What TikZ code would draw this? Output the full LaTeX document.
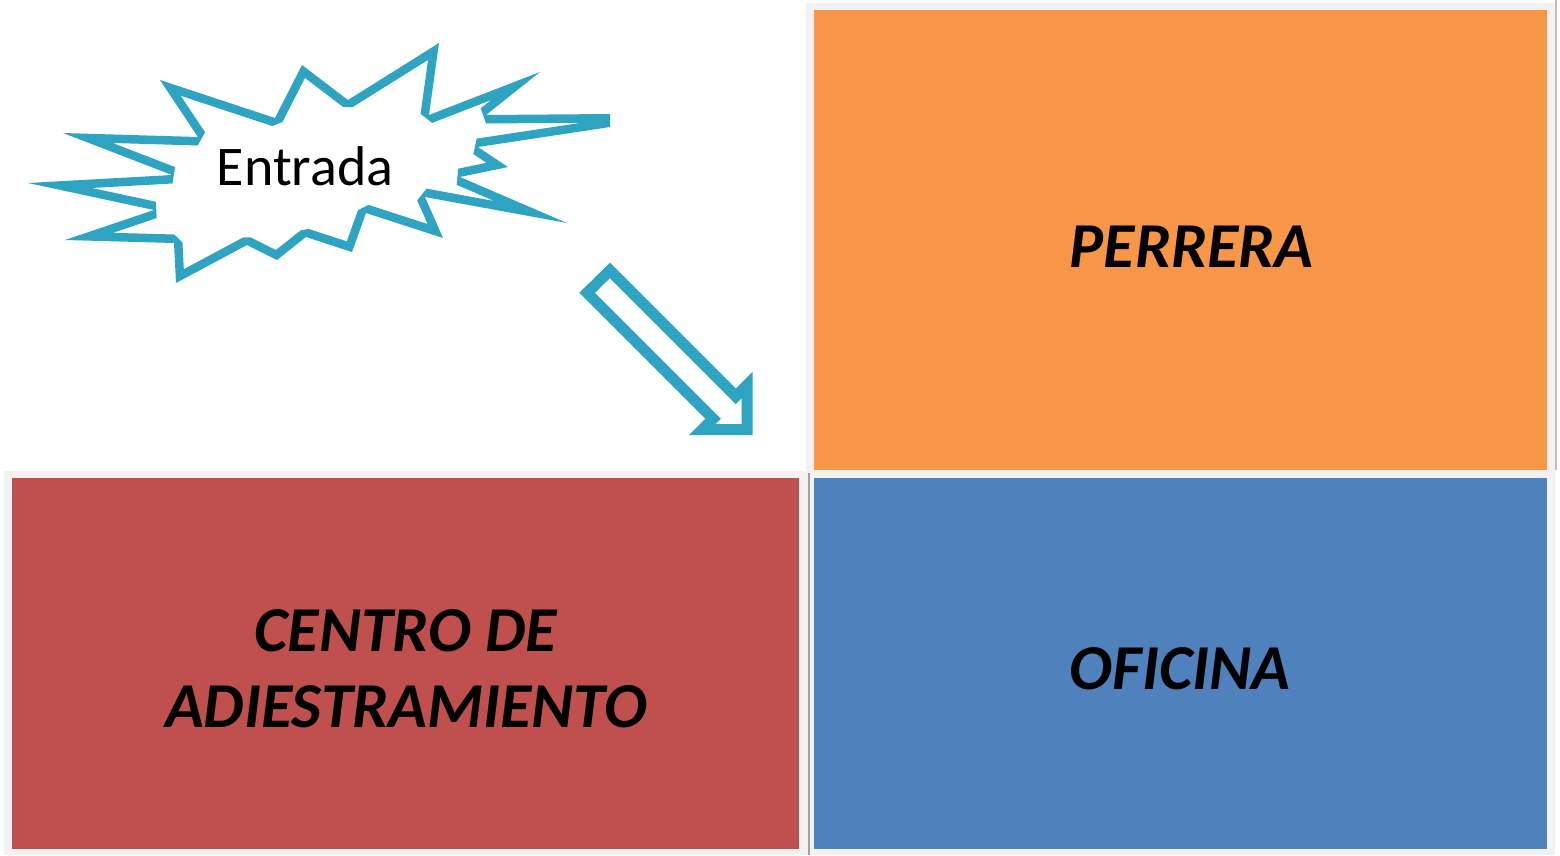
\documentclass[tikz,border=0pt]{standalone}
\usepackage{fontspec}
\setmainfont{Carlito}
\usepackage{tikz}
\definecolor{marco}{RGB}{242,242,242}
\definecolor{naranja}{RGB}{247,150,70}
\definecolor{rojo}{RGB}{192,80,77}
\definecolor{azul}{RGB}{79,129,189}
\definecolor{aqua}{RGB}{46,164,194}
\definecolor{divisor}{RGB}{176,155,155}
\definecolor{borde}{RGB}{214,184,160}
% contornos exteriores de la estrella y de la flecha
\def\estrella{(610,114)--(610,127)--(478,147)--(508,167)--(460,177)--(567,223)--(425,197)
	--(443,238)--(366,213)--(352,252)--(306,237)--(277,260)--(247,245)
	--(176,283)--(174,243)--(65,240)--(154,210)--(28,183)--(172,175)
	--(63,133)--(198,137)--(160,80)--(275,118)--(302,65)--(348,100)
	--(439,43)--(429,115)--(540,72)--(486,115)--cycle}
\def\flecha{(610,262.7)--(735.8,388.5)--(752.7,371.7)--(752.7,435)
	--(689,435)--(705.3,418.7)--(579.3,292.7)--cycle}

\begin{document}
\begin{tikzpicture}[x=1pt,y=-1pt,
    rotulo/.style={font=\fontsize{64}{76}\selectfont\bfseries\itshape, align=center}]
	\useasboundingbox (0,0) rectangle (1560,855);
	% marcos grises
	\fill [marco] (806,3) rectangle (1555,855);
	\fill [marco] (4,471) rectangle (806,855);
	\draw [divisor, line width=2.5pt] (809,473)--(809,855);
	\draw [borde, line width=2pt] (1556,0)--(1556,470);
	% salas
	\fill [naranja] (814,10) rectangle (1547,470);
	\fill [azul] (814,478) rectangle (1547,849);
	\fill [rojo] (12,478) rectangle (799,849);
	\node [rotulo] (perrera) at (1191.5,247) {PERRERA};
	\node [rotulo] (oficina) at (1180,669) {OFICINA};
	\node [rotulo] (centro) at (406,669) {CENTRO DE\\ADIESTRAMIENTO};
	% entrada
	\begin{scope}
		\clip \estrella;
		\draw [aqua, line width=17pt, line join=bevel] \estrella;
	\end{scope}
	\node [font=\fontsize{56}{66}\selectfont] (entrada) at (305,166) {Entrada};
	\begin{scope}
		\clip \flecha;
		\draw [aqua, line width=22pt, line join=miter] \flecha;
	\end{scope}
\end{tikzpicture}
\end{document}
